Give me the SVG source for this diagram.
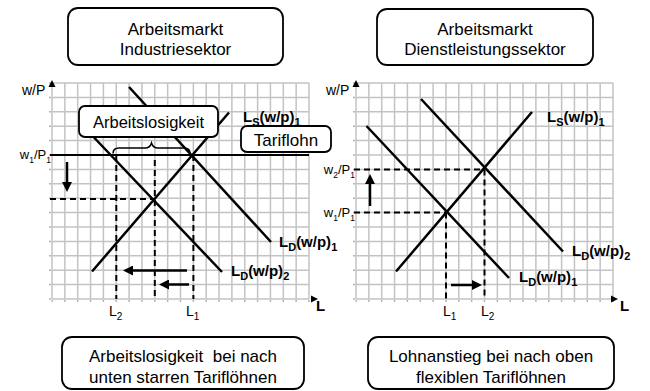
<svg xmlns="http://www.w3.org/2000/svg" xmlns:xlink="http://www.w3.org/1999/xlink" width="650" height="391" viewBox="0 0 650 391">
<style>
.grid{stroke:#c3c3c3;stroke-width:1.5;fill:none}
.curve{stroke:#000;stroke-width:2.5;fill:none}
.dash{stroke:#000;stroke-width:2;stroke-dasharray:6 4;fill:none}
.solid{stroke:#000;stroke-width:2;fill:none}
.box{fill:#fff;stroke:#000;stroke-width:1.8}
.arr{stroke:#000;stroke-width:2.5;fill:none;marker-end:url(#ah)}
.tick{stroke:#999;stroke-width:1.5;fill:none}
text{font-family:"Liberation Sans",Arial,sans-serif;fill:#000}
.t{font-size:17px;text-anchor:middle}
.lab{font-size:14px}
.wl{font-size:13px;text-anchor:end}
.bl{font-size:15px;font-weight:bold}
.sub{font-size:10px}
.ws{font-size:8.5px}
.bsub{font-size:11px}
</style>
<defs>
<marker id="ah" markerUnits="userSpaceOnUse" markerWidth="11" markerHeight="10" refX="2" refY="5" orient="auto">
<path d="M0,0 L10,5 L0,10 z" fill="#000"/>
</marker>
<path id="gridpath" class="grid" d="M0,0V216 M12.85,0V216 M25.7,0V216 M38.55,0V216 M51.4,0V216 M64.25,0V216 M77.1,0V216 M89.95,0V216 M102.8,0V216 M115.65,0V216 M128.5,0V216 M141.35,0V216 M154.2,0V216 M167.05,0V216 M179.9,0V216 M192.75,0V216 M205.6,0V216 M218.45,0V216 M231.3,0V216 M244.15,0V216 M257,0V216 M0,0H257 M0,14.4H257 M0,28.8H257 M0,43.2H257 M0,57.6H257 M0,72H257 M0,86.4H257 M0,100.8H257 M0,115.2H257 M0,129.6H257 M0,144H257 M0,158.4H257 M0,172.8H257 M0,187.2H257 M0,201.6H257 M0,216H257"/>
<g id="ticks">
<line class="tick" x1="-2" y1="-0.75" x2="-2" y2="217" stroke-dasharray="1.5 12.9"/>
<line class="tick" x1="-0.75" y1="218" x2="258" y2="218" stroke-dasharray="1.5 11.35"/>
</g>
</defs>

<g id="title-left">
<rect class="box" x="68" y="8" width="215" height="57" rx="10"/>
<text class="t" x="175.5" y="35">Arbeitsmarkt</text>
<text class="t" x="175.5" y="55">Industriesektor</text>
</g>
<g id="title-right">
<rect class="box" x="377" y="9" width="216" height="56" rx="10"/>
<text class="t" x="485" y="35">Arbeitsmarkt</text>
<text class="t" x="485" y="55">Dienstleistungssektor</text>
</g>

<g id="grid-left">
<use xlink:href="#gridpath" href="#gridpath" transform="translate(52,83)"/>
<use xlink:href="#ticks" href="#ticks" transform="translate(52,83)"/>
<path d="M52,80 L48.5,87 L55.5,87 z" fill="#000"/>
<path d="M318,299 L311,295.5 L311,302.5 z" fill="#000"/>
</g>
<g id="grid-right">
<use xlink:href="#gridpath" href="#gridpath" transform="translate(356,83)"/>
<use xlink:href="#ticks" href="#ticks" transform="translate(356,83)"/>
<path d="M356,80 L352.5,87 L359.5,87 z" fill="#000"/>
<path d="M618,299 L611,295.5 L611,302.5 z" fill="#000"/>
</g>

<g id="connectors">
<line class="solid" x1="50" y1="155" x2="309" y2="155"/>
<line class="dash" x1="50" y1="199" x2="154.8" y2="199"/>
<line class="dash" x1="116.3" y1="155" x2="116.3" y2="299"/>
<line class="dash" x1="154.8" y1="160" x2="154.8" y2="299"/>
<line class="dash" x1="193.4" y1="155" x2="193.4" y2="299"/>
<line class="curve" x1="92" y1="271.5" x2="229" y2="112.5"/>
<line class="curve" x1="129" y1="87" x2="271" y2="242"/>
<line class="curve" x1="85" y1="128" x2="222" y2="272"/>
<line class="arr" x1="67" y1="162" x2="67" y2="184"/>
<line class="arr" x1="187" y1="270.5" x2="131" y2="270.5"/>
<line class="arr" x1="189" y1="284.5" x2="167" y2="284.5"/>
<path d="M113,153.5 Q113,148 119,148 L145,148 Q150,148 151.5,143 Q153,148 158,148 L184,148 Q190,148 190,153.5" stroke="#000" stroke-width="1.5" fill="none"/>
<line class="dash" x1="354" y1="169.4" x2="484.5" y2="169.4"/>
<line class="dash" x1="354" y1="212.6" x2="446" y2="212.6"/>
<line class="dash" x1="446" y1="212.6" x2="446" y2="299"/>
<line class="dash" x1="484.5" y1="169.4" x2="484.5" y2="299"/>
<line class="curve" x1="396" y1="271.5" x2="532" y2="112"/>
<line class="curve" x1="366.5" y1="126" x2="509" y2="278"/>
<line class="curve" x1="421" y1="99" x2="563" y2="251.5"/>
<line class="arr" x1="370" y1="206" x2="370" y2="182"/>
<line class="arr" x1="451" y1="285" x2="474" y2="285"/>
</g>

<g id="box-arbeitslosigkeit">
<rect class="box" x="79" y="106" width="139" height="31" rx="6"/>
<text x="148.5" y="127.5" font-size="16.5" text-anchor="middle">Arbeitslosigkeit</text>
</g>
<g id="box-tariflohn">
<rect class="box" x="241" y="126" width="90" height="26" rx="6"/>
<text x="286" y="145.5" font-size="17" text-anchor="middle">Tariflohn</text>
</g>

<g id="labels-left">
<text class="lab" x="22" y="95">w/P</text>
<text class="wl" x="51" y="159">w<tspan class="ws" dy="3.5">1</tspan><tspan dy="-3.5">/P</tspan><tspan class="ws" dy="3.5">1</tspan></text>
<text class="bl" x="243" y="122">L<tspan class="bsub" dy="4">S</tspan><tspan dy="-4">(w/p)</tspan><tspan class="bsub" dy="4">1</tspan></text>
<text class="bl" x="279" y="247">L<tspan class="bsub" dy="4">D</tspan><tspan dy="-4">(w/p)</tspan><tspan class="bsub" dy="4">1</tspan></text>
<text class="bl" x="231" y="276">L<tspan class="bsub" dy="4">D</tspan><tspan dy="-4">(w/p)</tspan><tspan class="bsub" dy="4">2</tspan></text>
<text class="lab" x="109" y="316">L<tspan class="sub" dy="4">2</tspan></text>
<text class="lab" x="186" y="316">L<tspan class="sub" dy="4">1</tspan></text>
<text class="bl" x="316" y="311">L</text>
</g>
<g id="labels-right">
<text class="lab" x="326" y="95">w/P</text>
<text class="wl" x="355" y="174">w<tspan class="ws" dy="3.5">2</tspan><tspan dy="-3.5">/P</tspan><tspan class="ws" dy="3.5">1</tspan></text>
<text class="wl" x="355" y="217">w<tspan class="ws" dy="3.5">1</tspan><tspan dy="-3.5">/P</tspan><tspan class="ws" dy="3.5">1</tspan></text>
<text class="bl" x="547" y="122">L<tspan class="bsub" dy="4">S</tspan><tspan dy="-4">(w/p)</tspan><tspan class="bsub" dy="4">1</tspan></text>
<text class="bl" x="572" y="256">L<tspan class="bsub" dy="4">D</tspan><tspan dy="-4">(w/p)</tspan><tspan class="bsub" dy="4">2</tspan></text>
<text class="bl" x="519" y="282">L<tspan class="bsub" dy="4">D</tspan><tspan dy="-4">(w/p)</tspan><tspan class="bsub" dy="4">1</tspan></text>
<text class="lab" x="443" y="316">L<tspan class="sub" dy="4">1</tspan></text>
<text class="lab" x="481" y="316">L<tspan class="sub" dy="4">2</tspan></text>
<text class="bl" x="620" y="311">L</text>
</g>

<g id="caption-left">
<rect class="box" x="62" y="337" width="242" height="52" rx="10"/>
<text class="t" x="183" y="362">Arbeitslosigkeit&#160; bei nach</text>
<text class="t" x="183" y="383">unten starren Tariflöhnen</text>
</g>
<g id="caption-right">
<rect class="box" x="368" y="337" width="246" height="52" rx="10"/>
<text class="t" x="491" y="362">Lohnanstieg bei nach oben</text>
<text class="t" x="491" y="383">flexiblen Tariflöhnen</text>
</g>
</svg>
